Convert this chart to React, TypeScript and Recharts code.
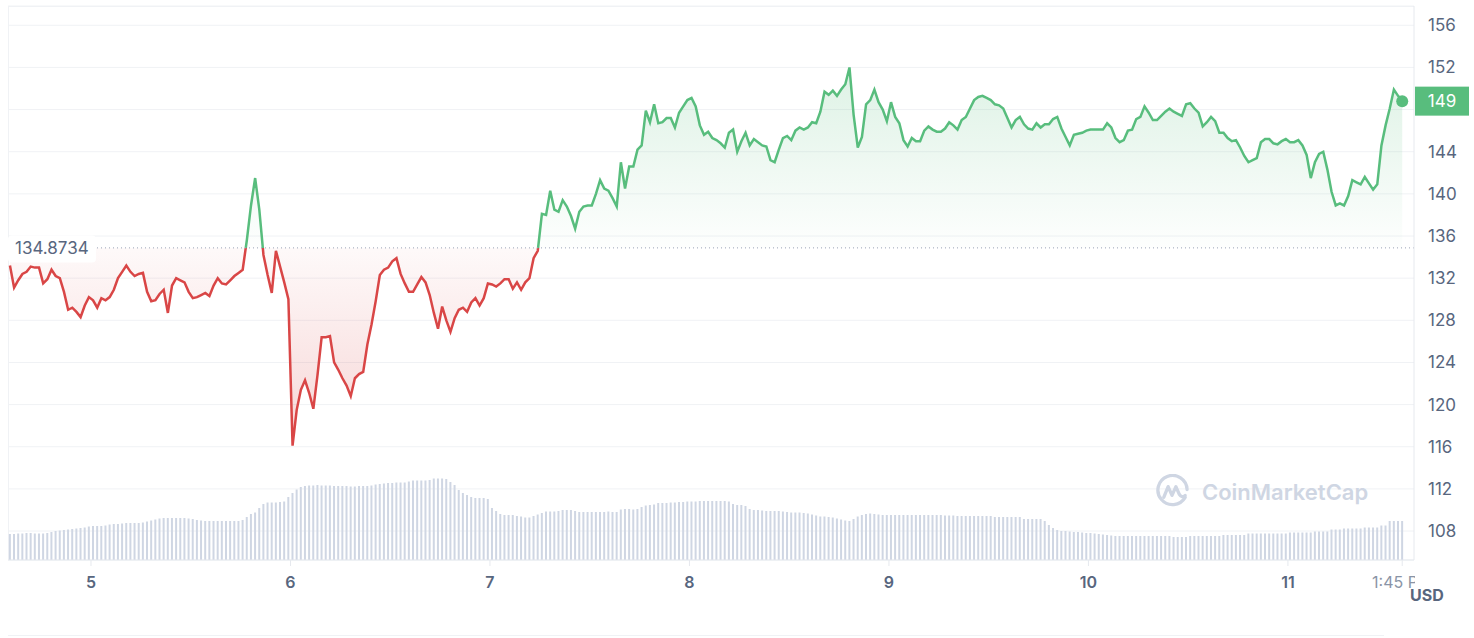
import React from 'react';
import {
  Area,
  Bar,
  CartesianGrid,
  ComposedChart,
  ReferenceDot,
  ReferenceLine,
  XAxis,
  YAxis,
} from 'recharts';

// 30-minute samples, Dec 4 14:15 -> Dec 11 13:45
const START_T = 4.59375;
const STEP = 1 / 48;
const BASELINE = 134.8734;

const prices = [
  133.2, 131.1, 131.8, 132.4, 132.6, 133.1, 133.0, 133.0, 131.5, 131.9,
  132.8, 132.2, 132.0, 130.7, 129.0, 129.2, 128.8, 128.3, 129.4, 130.2,
  129.9, 129.2, 130.1, 129.9, 130.2, 130.9, 132.0, 132.6, 133.2, 132.6,
  132.2, 132.4, 132.5, 130.7, 129.8, 129.9, 130.5, 130.9, 128.7, 131.3,
  132.0, 131.8, 131.6, 130.7, 130.1, 130.2, 130.4, 130.6, 130.3, 131.3,
  132.0, 131.5, 131.4, 131.8, 132.2, 132.5, 132.8, 135.6, 138.9, 141.5,
  138.5, 134.2, 132.3, 130.6, 134.6, 133.1, 131.6, 130.0, 116.1, 119.5,
  121.4, 122.3, 121.1, 119.6, 122.8, 126.4, 126.4, 126.5, 124.0, 123.3,
  122.5, 121.8, 120.8, 122.5, 122.9, 123.1, 125.7, 127.6, 129.8, 132.3,
  132.8, 133.0, 133.6, 133.9, 132.4, 131.5, 130.7, 130.7, 131.4, 132.1,
  131.6, 130.4, 128.7, 127.2, 129.3, 128.0, 126.9, 128.2, 129.0, 129.2,
  128.8, 129.7, 130.1, 129.4, 130.1, 131.5, 131.4, 131.2, 131.5, 131.9,
  131.9, 131.0, 131.6, 130.9, 131.6, 132.0, 133.9, 134.6, 138.1, 138.0,
  140.3, 138.5, 138.3, 139.4, 138.8, 137.9, 136.7, 138.3, 138.8, 138.9,
  138.9, 140.0, 141.3, 140.5, 140.3, 139.6, 138.8, 143.0, 140.5, 142.6,
  142.6, 144.2, 144.6, 147.9, 146.8, 148.5, 146.7, 146.8, 147.2, 147.2,
  146.3, 147.7, 148.3, 148.9, 149.1, 148.3, 146.5, 145.6, 145.9, 145.3,
  145.1, 144.8, 144.4, 145.8, 146.1, 144.0, 145.0, 145.8, 144.6, 145.2,
  144.9, 144.6, 144.5, 143.2, 143.0, 144.2, 145.3, 145.5, 145.1, 146.0,
  146.3, 146.1, 146.3, 146.8, 146.7, 147.8, 149.7, 149.4, 149.8, 149.3,
  149.9, 150.4, 152.0, 147.5, 144.4, 145.4, 148.5, 148.9, 149.9, 148.7,
  148.0, 146.9, 148.7, 147.3, 146.7, 145.1, 144.5, 145.3, 145.0, 145.0,
  146.0, 146.4, 146.1, 145.9, 145.9, 146.2, 146.8, 146.5, 146.1, 147.0,
  147.3, 148.1, 148.9, 149.2, 149.3, 149.1, 148.9, 148.5, 148.4, 148.1,
  147.2, 146.3, 147.0, 147.3, 146.6, 146.2, 146.1, 146.7, 146.3, 146.6,
  146.6, 147.1, 147.3, 146.2, 145.4, 144.6, 145.6, 145.7, 145.8, 146.0,
  146.1, 146.1, 146.1, 146.1, 146.7, 146.3, 145.3, 144.9, 145.1, 146.0,
  146.1, 147.1, 147.3, 148.3, 147.7, 147.0, 147.0, 147.4, 147.8, 148.1,
  147.8, 147.6, 147.4, 148.5, 148.6, 148.1, 147.7, 146.4, 146.8, 147.3,
  146.9, 145.8, 145.8, 145.3, 145.0, 145.1, 144.4, 143.6, 143.0, 143.2,
  143.4, 144.9, 145.2, 145.2, 144.8, 144.7, 145.0, 145.2, 144.9, 144.9,
  145.1, 144.6, 143.7, 141.5, 143.0, 143.8, 144.0, 142.3, 140.2, 138.9,
  139.1, 138.9, 139.8, 141.3, 141.1, 140.9, 141.6, 141.0, 140.4, 140.9,
  144.6, 146.5, 148.1, 149.9, 149.3, 148.8,
];

// 24h volume, billions USD
const volumes = [
  2.6, 2.6, 2.65, 2.65, 2.7, 2.7, 2.65, 2.65, 2.65, 2.7,
  2.8, 2.9, 2.95, 3.0, 3.05, 3.1, 3.15, 3.2, 3.25, 3.35,
  3.4, 3.4, 3.4, 3.45, 3.55, 3.6, 3.6, 3.65, 3.7, 3.7,
  3.7, 3.7, 3.75, 3.85, 3.95, 4.05, 4.15, 4.2, 4.2, 4.2,
  4.2, 4.2, 4.2, 4.15, 4.1, 4.0, 3.95, 3.9, 3.9, 3.9,
  3.9, 3.9, 3.9, 3.9, 3.9, 3.9, 4.0, 4.3, 4.6, 4.75,
  5.2, 5.6, 5.75, 5.75, 5.75, 5.8, 5.85, 6.3, 6.7, 7.05,
  7.3, 7.4, 7.45, 7.45, 7.5, 7.45, 7.45, 7.45, 7.4, 7.4,
  7.4, 7.4, 7.35, 7.35, 7.4, 7.4, 7.4, 7.45, 7.55, 7.6,
  7.65, 7.7, 7.7, 7.75, 7.75, 7.75, 7.85, 7.95, 7.95, 7.95,
  7.95, 8.0, 8.15, 8.15, 8.15, 8.1, 7.8, 7.5, 7.0, 6.7,
  6.5, 6.3, 6.2, 6.2, 6.2, 6.1, 5.2, 4.9, 4.6, 4.5,
  4.5, 4.5, 4.4, 4.35, 4.25, 4.25, 4.4, 4.55, 4.7, 4.85,
  4.85, 4.85, 4.9, 5.0, 5.0, 5.0, 4.9, 4.8, 4.8, 4.8,
  4.8, 4.8, 4.8, 4.8, 4.85, 4.8, 4.8, 5.05, 5.1, 5.1,
  5.05, 5.1, 5.3, 5.45, 5.5, 5.55, 5.7, 5.7, 5.7, 5.75,
  5.75, 5.8, 5.8, 5.85, 5.85, 5.85, 5.9, 5.9, 5.9, 5.9,
  5.9, 5.9, 5.9, 5.85, 5.6, 5.5, 5.5, 5.4, 5.1, 5.0,
  5.0, 4.95, 4.9, 4.9, 4.9, 4.9, 4.85, 4.8, 4.75, 4.75,
  4.75, 4.7, 4.65, 4.55, 4.45, 4.35, 4.35, 4.3, 4.25, 4.15,
  4.05, 3.95, 3.9, 4.1, 4.35, 4.5, 4.6, 4.65, 4.6, 4.55,
  4.5, 4.5, 4.5, 4.5, 4.5, 4.5, 4.5, 4.5, 4.5, 4.5,
  4.5, 4.5, 4.5, 4.5, 4.5, 4.45, 4.45, 4.45, 4.4, 4.4,
  4.4, 4.4, 4.4, 4.4, 4.4, 4.4, 4.4, 4.3, 4.3, 4.3,
  4.3, 4.3, 4.3, 4.3, 4.1, 4.1, 4.1, 4.1, 4.1, 3.9,
  3.5, 3.2, 3.0, 2.9, 2.9, 2.85, 2.8, 2.8, 2.75, 2.7,
  2.7, 2.65, 2.6, 2.55, 2.5, 2.45, 2.4, 2.4, 2.4, 2.4,
  2.4, 2.4, 2.4, 2.4, 2.4, 2.4, 2.4, 2.4, 2.4, 2.4,
  2.3, 2.3, 2.3, 2.3, 2.4, 2.4, 2.4, 2.4, 2.4, 2.4,
  2.4, 2.4, 2.5, 2.5, 2.5, 2.5, 2.5, 2.5, 2.65, 2.65,
  2.65, 2.65, 2.65, 2.65, 2.65, 2.65, 2.65, 2.65, 2.75, 2.75,
  2.75, 2.75, 2.75, 2.75, 2.85, 2.85, 2.85, 2.85, 3.05, 3.05,
  3.05, 3.15, 3.15, 3.15, 3.15, 3.15, 3.25, 3.25, 3.25, 3.25,
  3.45, 3.45, 3.9, 3.9, 3.9, 3.9,
];

const dayTicks = [5, 6, 7, 8, 9, 10, 11];
const priceTicks = [108, 112, 116, 120, 124, 128, 132, 136, 140, 144, 148, 152, 156];
const lastTickLabel = '1:45 PM';

const GREEN = '#58bd7d';
const RED = '#d94646';
const TEXT = '#58667e';
const GRID = '#f0f2f5';
const AXIS = '#e6e9ee';
const WATERMARK = '#cfd6e3';

const data = prices.map((price, i) => ({ t: START_T + i * STEP, price, volume: volumes[i] }));
const last = data[data.length - 1];
const xTicks = [...dayTicks, last.t];

const maxP = Math.max(...prices);
const minP = Math.min(...prices);
const split = (maxP - BASELINE) / (maxP - minP);

function XTick({ x, y, payload }: any) {
  const isDay = dayTicks.includes(payload.value);
  return (
    <text
      x={x}
      y={y + 20}
      textAnchor="middle"
      fontSize={16}
      fontWeight={isDay ? 600 : 400}
      fill={isDay ? TEXT : '#8a94a6'}
      clipPath="url(#x-clip)"
    >
      {isDay ? payload.value : lastTickLabel}
    </text>
  );
}

// ticks that sit under the current-price tag are hidden, like the original
function YTick({ x, y, payload }: any) {
  if (Math.abs(payload.value - last.price) < 2) return <g />;
  return (
    <text x={x} y={y} dy="0.35em" fontSize={17} fill={TEXT}>
      {payload.value}
    </text>
  );
}

function BaseLabel({ viewBox }: any) {
  const { x, y } = viewBox;
  return (
    <g>
      <rect x={x} y={y - 12.5} width={88} height={27} rx={4} fill="#fff" />
      <text x={x + 7} y={y + 1.5} dominantBaseline="middle" fontSize={17} fill={TEXT}>
        {String(BASELINE)}
      </text>
    </g>
  );
}

function PriceTag({ viewBox }: any) {
  const { x, y, width } = viewBox;
  const left = x + width + 1;
  return (
    <g>
      <rect x={left} y={y - 14.5} width={54} height={29} fill={GREEN} />
      <text x={left + 27} y={y + 1} textAnchor="middle" dominantBaseline="middle" fontSize={17} fill="#fff">
        {Math.round(last.price)}
      </text>
    </g>
  );
}

function Logo() {
  return (
    <svg width={35} height={35} viewBox="0 0 36 36">
      <path
        d="M31 24 A15 15 0 1 1 33 16"
        fill="none"
        stroke={WATERMARK}
        strokeWidth={3.4}
        strokeLinecap="round"
      />
      <path
        d="M9 24 L13.5 13 L17.5 22 L21.5 13 L25 21 Q27.5 25 31 22"
        fill="none"
        stroke={WATERMARK}
        strokeWidth={3.4}
        strokeLinecap="round"
        strokeLinejoin="round"
      />
    </svg>
  );
}

export default function App() {
  return (
    <div
      style={{
        position: 'absolute',
        left: 0,
        top: 0,
        width: 1474,
        height: 638,
        background: '#fff',
        fontFamily: 'Inter, "Noto Sans", sans-serif',
        overflow: 'hidden',
      }}
    >
      <div
        style={{
          position: 'absolute',
          left: 8,
          top: 6,
          width: 1406,
          height: 554,
          borderTop: `1px solid ${GRID}`,
          borderLeft: `1px solid ${GRID}`,
          boxSizing: 'border-box',
        }}
      />
      <ComposedChart width={1474} height={638} data={data} margin={{ top: 6, right: 0, bottom: 0, left: 8 }}>
        <defs>
          <linearGradient id="priceStroke" x1="0" y1="0" x2="0" y2="1">
            <stop offset={split} stopColor={GREEN} />
            <stop offset={split} stopColor={RED} />
          </linearGradient>
          <linearGradient id="priceFill" x1="0" y1="0" x2="0" y2="1">
            <stop offset={0} stopColor={GREEN} stopOpacity={0.2} />
            <stop offset={split} stopColor={GREEN} stopOpacity={0.01} />
            <stop offset={split} stopColor={RED} stopOpacity={0.03} />
            <stop offset={1} stopColor={RED} stopOpacity={0.22} />
          </linearGradient>
          <clipPath id="x-clip">
            <rect x={0} y={0} width={1415} height={638} />
          </clipPath>
        </defs>
        <CartesianGrid yAxisId="price" vertical={false} stroke={GRID} />
        <XAxis
          dataKey="t"
          type="number"
          domain={[4.584, 11.632]}
          ticks={xTicks}
          interval={0}
          allowDataOverflow
          tick={<XTick />}
          tickSize={6}
          tickLine={{ stroke: AXIS }}
          axisLine={{ stroke: AXIS }}
          height={78}
        />
        <YAxis
          yAxisId="price"
          orientation="right"
          width={60}
          domain={[105.25, 157.83]}
          ticks={priceTicks}
          interval={0}
          allowDataOverflow
          tickLine={false}
          tickSize={0}
          tickMargin={14}
          axisLine={{ stroke: AXIS }}
          tick={YTick}
        />
        <YAxis yAxisId="vol" hide domain={[0, 55.4]} />
        <Bar yAxisId="vol" dataKey="volume" fill={WATERMARK} barSize={2} isAnimationActive={false} />
        <Area
          yAxisId="price"
          type="linear"
          dataKey="price"
          baseValue={BASELINE}
          stroke="url(#priceStroke)"
          strokeWidth={2.5}
          fill="url(#priceFill)"
          fillOpacity={1}
          dot={false}
          activeDot={false}
          isAnimationActive={false}
        />
        <ReferenceLine
          yAxisId="price"
          y={BASELINE}
          stroke="#9aa3b5"
          strokeDasharray="1 3"
          label={<BaseLabel />}
        />
        <ReferenceLine yAxisId="price" y={last.price} stroke="none" label={<PriceTag />} />
        <ReferenceDot yAxisId="price" x={last.t} y={last.price} r={6} fill={GREEN} stroke="none" />
      </ComposedChart>
      <div
        style={{
          position: 'absolute',
          left: 1155,
          top: 474,
          display: 'flex',
          alignItems: 'center',
          gap: 12,
          color: WATERMARK,
          fontSize: 22,
          fontWeight: 600,
          pointerEvents: 'none',
        }}
      >
        <Logo />
        <span>CoinMarketCap</span>
      </div>
      <div
        style={{
          position: 'absolute',
          left: 1410,
          top: 585,
          fontSize: 16,
          fontWeight: 700,
          lineHeight: '20px',
          color: TEXT,
        }}
      >
        USD
      </div>
      <div style={{ position: 'absolute', left: 8, top: 635, width: 1376, height: 1, background: GRID }} />
    </div>
  );
}
